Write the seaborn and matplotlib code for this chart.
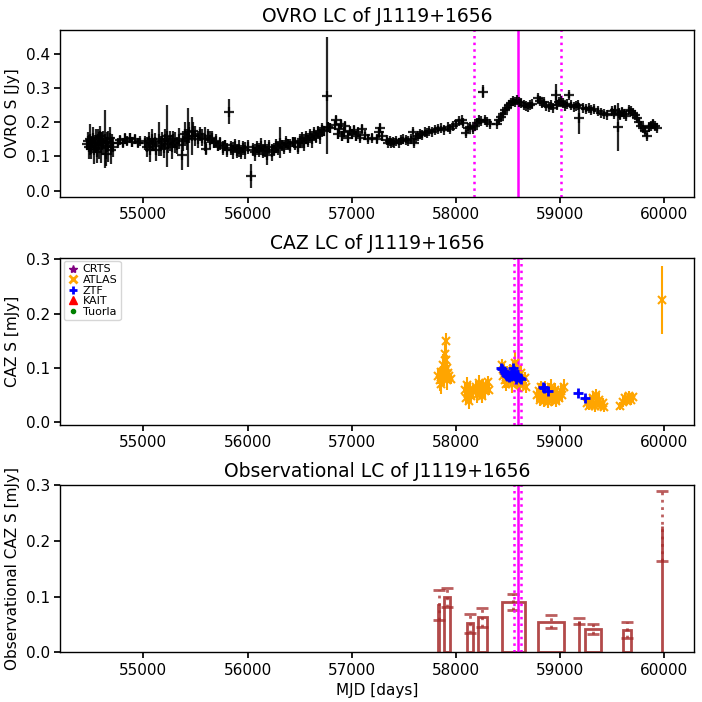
import matplotlib
matplotlib.use("Agg")
import matplotlib.pyplot as plt
from matplotlib.lines import Line2D
import seaborn as sns
import numpy as np

# OVRO 15 GHz light curve
ovro_mjd = [54457, 54465, 54475, 54485, 54495, 54505, 54515, 54525, 54535, 54545,
            54555, 54565, 54575, 54585, 54595, 54605, 54615, 54632, 54645, 54655,
            54665, 54675, 54685, 54695, 54705, 54760, 54780, 54800, 54820, 54845,
            54870, 54895, 54920, 54945, 54970, 55020, 55035, 55050, 55065, 55080,
            55095, 55110, 55125, 55150, 55165, 55180, 55195, 55210, 55224, 55240,
            55255, 55270, 55285, 55300, 55320, 55340, 55366, 55380, 55400, 55415,
            55425, 55440, 55463, 55480, 55500, 55520, 55540, 55560, 55587, 55600,
            55620, 55640, 55660, 55680, 55700, 55720, 55740, 55765, 55785, 55800,
            55825, 55840, 55860, 55880, 55900, 55920, 55940, 55960, 55980, 56000,
            56031, 56050, 56070, 56090, 56110, 56130, 56150, 56170, 56190, 56210,
            56230, 56250, 56270, 56290, 56316, 56330, 56350, 56370, 56390, 56410,
            56440, 56460, 56480, 56500, 56520, 56540, 56560, 56580, 56600, 56620,
            56640, 56660, 56680, 56700, 56715, 56735, 56760, 56775, 56790, 56838,
            56850, 56865, 56880, 56895, 56910, 56925, 56940, 56960, 56980, 57000,
            57020, 57040, 57060, 57080, 57100, 57130, 57160, 57192, 57243, 57260,
            57275, 57290, 57336, 57350, 57365, 57380, 57395, 57410, 57430, 57450,
            57475, 57496, 57520, 57545, 57570, 57590, 57600, 57615, 57635, 57655,
            57675, 57700, 57720, 57745, 57770, 57800, 57830, 57860, 57890, 57920,
            57944, 57976, 58000, 58030, 58055, 58072, 58098, 58120, 58136, 58160,
            58185, 58200, 58220, 58240, 58257, 58275, 58296, 58328, 58392, 58410,
            58430, 58450, 58470, 58490, 58510, 58530, 58550, 58570, 58584, 58610,
            58630, 58650, 58670, 58690, 58710, 58730, 58792, 58810, 58830, 58850,
            58870, 58890, 58910, 58930, 58958, 58975, 58990, 59010, 59030, 59050,
            59070, 59090, 59110, 59130, 59150, 59170, 59186, 59224, 59250, 59275,
            59300, 59330, 59360, 59390, 59420, 59450, 59499, 59515, 59530, 59553,
            59565, 59580, 59595, 59615, 59635, 59660, 59680, 59700, 59720, 59740,
            59760, 59780, 59800, 59815, 59833, 59850, 59870, 59890, 59910, 59930]
ovro_flux = [0.135, 0.145, 0.128, 0.150, 0.122, 0.140, 0.155, 0.118, 0.138, 0.146,
             0.112, 0.150, 0.132, 0.160, 0.125, 0.145, 0.138, 0.150, 0.108, 0.142,
             0.130, 0.155, 0.118, 0.140, 0.128, 0.140, 0.148, 0.138, 0.152, 0.145,
             0.155, 0.142, 0.150, 0.138, 0.145, 0.140, 0.128, 0.145, 0.120, 0.150,
             0.135, 0.142, 0.118, 0.150, 0.130, 0.145, 0.125, 0.150, 0.160, 0.135,
             0.145, 0.128, 0.150, 0.140, 0.132, 0.152, 0.105, 0.145, 0.165, 0.150,
             0.155, 0.170, 0.160, 0.175, 0.160, 0.150, 0.165, 0.155, 0.150, 0.123,
             0.160, 0.148, 0.155, 0.140, 0.145, 0.130, 0.138, 0.125, 0.132, 0.118,
             0.230, 0.125, 0.118, 0.130, 0.115, 0.122, 0.112, 0.125, 0.118, 0.128,
             0.044, 0.120, 0.112, 0.125, 0.118, 0.130, 0.115, 0.122, 0.105, 0.128,
             0.112, 0.120, 0.130, 0.125, 0.140, 0.132, 0.128, 0.140, 0.135, 0.130,
             0.142, 0.138, 0.128, 0.145, 0.150, 0.140, 0.155, 0.148, 0.160, 0.150,
             0.165, 0.158, 0.170, 0.162, 0.178, 0.175, 0.277, 0.185, 0.182, 0.192,
             0.205, 0.165, 0.180, 0.195, 0.160, 0.172, 0.188, 0.155, 0.175, 0.165,
             0.178, 0.160, 0.170, 0.155, 0.180, 0.162, 0.152, 0.155, 0.150, 0.170,
             0.182, 0.160, 0.148, 0.140, 0.145, 0.138, 0.142, 0.140, 0.145, 0.140,
             0.148, 0.150, 0.148, 0.145, 0.152, 0.172, 0.140, 0.155, 0.160, 0.165,
             0.162, 0.170, 0.168, 0.175, 0.172, 0.178, 0.180, 0.182, 0.178, 0.185,
             0.180, 0.188, 0.195, 0.202, 0.205, 0.198, 0.169, 0.182, 0.187, 0.180,
             0.190, 0.198, 0.205, 0.202, 0.289, 0.206, 0.200, 0.194, 0.196, 0.205,
             0.215, 0.225, 0.235, 0.240, 0.250, 0.255, 0.262, 0.258, 0.264, 0.260,
             0.255, 0.250, 0.248, 0.245, 0.250, 0.252, 0.270, 0.262, 0.255, 0.258,
             0.248, 0.245, 0.250, 0.242, 0.280, 0.250, 0.258, 0.262, 0.255, 0.248,
             0.252, 0.279, 0.250, 0.245, 0.248, 0.250, 0.211, 0.242, 0.238, 0.240,
             0.235, 0.238, 0.232, 0.228, 0.225, 0.222, 0.232, 0.225, 0.235, 0.187,
             0.228, 0.220, 0.230, 0.225, 0.218, 0.235, 0.232, 0.228, 0.222, 0.212,
             0.200, 0.190, 0.182, 0.175, 0.159, 0.185, 0.190, 0.195, 0.188, 0.182]
ovro_err = [0.015, 0.025, 0.035, 0.045, 0.030, 0.020, 0.030, 0.040, 0.025, 0.035,
            0.030, 0.030, 0.040, 0.030, 0.045, 0.025, 0.035, 0.085, 0.035, 0.030,
            0.045, 0.030, 0.040, 0.025, 0.030, 0.010, 0.012, 0.010, 0.015, 0.012,
            0.012, 0.015, 0.012, 0.010, 0.010, 0.020, 0.030, 0.025, 0.035, 0.030,
            0.020, 0.025, 0.030, 0.050, 0.030, 0.025, 0.030, 0.030, 0.090, 0.025,
            0.030, 0.035, 0.025, 0.030, 0.025, 0.030, 0.045, 0.030, 0.035, 0.030,
            0.085, 0.030, 0.055, 0.025, 0.030, 0.025, 0.020, 0.025, 0.035, 0.020,
            0.020, 0.025, 0.020, 0.015, 0.020, 0.015, 0.020, 0.020, 0.015, 0.020,
            0.036, 0.020, 0.025, 0.020, 0.020, 0.025, 0.020, 0.020, 0.025, 0.020,
            0.035, 0.020, 0.025, 0.020, 0.020, 0.025, 0.020, 0.025, 0.030, 0.020,
            0.025, 0.020, 0.020, 0.020, 0.045, 0.015, 0.020, 0.020, 0.015, 0.020,
            0.015, 0.020, 0.020, 0.020, 0.020, 0.025, 0.020, 0.020, 0.020, 0.025,
            0.020, 0.020, 0.020, 0.025, 0.020, 0.015, 0.170, 0.015, 0.015, 0.012,
            0.012, 0.015, 0.012, 0.012, 0.015, 0.015, 0.012, 0.015, 0.012, 0.015,
            0.012, 0.015, 0.012, 0.010, 0.012, 0.010, 0.010, 0.010, 0.012, 0.015,
            0.012, 0.015, 0.010, 0.008, 0.008, 0.008, 0.008, 0.008, 0.008, 0.008,
            0.008, 0.008, 0.008, 0.008, 0.008, 0.008, 0.010, 0.008, 0.008, 0.008,
            0.008, 0.008, 0.008, 0.008, 0.008, 0.008, 0.008, 0.008, 0.008, 0.008,
            0.008, 0.008, 0.008, 0.008, 0.008, 0.008, 0.008, 0.008, 0.008, 0.008,
            0.008, 0.008, 0.008, 0.008, 0.018, 0.008, 0.008, 0.008, 0.008, 0.008,
            0.008, 0.008, 0.010, 0.008, 0.008, 0.008, 0.008, 0.008, 0.008, 0.008,
            0.008, 0.008, 0.008, 0.008, 0.008, 0.008, 0.008, 0.008, 0.008, 0.008,
            0.008, 0.008, 0.008, 0.008, 0.030, 0.008, 0.008, 0.008, 0.008, 0.008,
            0.008, 0.008, 0.008, 0.008, 0.008, 0.008, 0.046, 0.008, 0.008, 0.008,
            0.008, 0.008, 0.008, 0.008, 0.008, 0.008, 0.008, 0.010, 0.012, 0.070,
            0.010, 0.012, 0.010, 0.010, 0.010, 0.008, 0.008, 0.008, 0.008, 0.008,
            0.008, 0.010, 0.010, 0.010, 0.008, 0.010, 0.010, 0.010, 0.010, 0.008]

# ATLAS optical points
atlas_mjd = [57830, 57845, 57855, 57862, 57870, 57878, 57885, 57892, 57898, 57903,
             57908, 57912, 57918, 57925, 57935, 57950,
             58090, 58100, 58110, 58118, 58125, 58132, 58140, 58150, 58160,
             58195, 58205, 58215, 58225, 58235, 58245, 58255, 58265, 58275, 58290,
             58305, 58318,
             58445, 58455, 58465, 58475, 58485, 58495, 58505, 58515, 58525, 58535,
             58545, 58555, 58565, 58575, 58585, 58595, 58605, 58615, 58625, 58640,
             58660, 58675,
             58780, 58795, 58805, 58815, 58825, 58835, 58845, 58855, 58865, 58875,
             58885, 58895, 58905, 58915, 58925, 58935, 58945, 58955, 58965, 58975,
             58990, 59005, 59020, 59035,
             59260, 59275, 59290, 59305, 59320, 59335, 59345, 59360, 59375, 59390,
             59410, 59425,
             59580, 59600, 59620, 59640, 59660, 59680, 59700,
             59980]
atlas_flux = [0.085, 0.078, 0.092, 0.070, 0.088, 0.105, 0.082, 0.095, 0.125, 0.150,
              0.115, 0.100, 0.078, 0.090, 0.085, 0.080,
              0.060, 0.045, 0.068, 0.052, 0.040, 0.062, 0.055, 0.048, 0.058,
              0.065, 0.050, 0.060, 0.072, 0.055, 0.062, 0.048, 0.068, 0.058, 0.065,
              0.075, 0.060,
              0.105, 0.085, 0.095, 0.078, 0.070, 0.088, 0.075, 0.092, 0.082, 0.070,
              0.098, 0.088, 0.110, 0.080, 0.095, 0.072, 0.085, 0.068, 0.090, 0.075,
              0.082, 0.065,
              0.050, 0.058, 0.042, 0.065, 0.048, 0.055, 0.040, 0.062, 0.045, 0.052,
              0.038, 0.058, 0.047, 0.065, 0.042, 0.055, 0.048, 0.060, 0.040, 0.052,
              0.045, 0.058, 0.050, 0.065,
              0.035, 0.030, 0.040, 0.032, 0.045, 0.030, 0.050, 0.038, 0.042, 0.030,
              0.035, 0.028,
              0.030, 0.038, 0.045, 0.040, 0.048, 0.042, 0.046,
              0.225]
atlas_err = [0.015, 0.020, 0.012, 0.018, 0.015, 0.020, 0.015, 0.018, 0.020, 0.015,
             0.020, 0.015, 0.018, 0.015, 0.012, 0.010,
             0.015, 0.012, 0.015, 0.012, 0.015, 0.012, 0.015, 0.012, 0.010,
             0.012, 0.015, 0.012, 0.015, 0.012, 0.015, 0.012, 0.012, 0.015, 0.012,
             0.010, 0.010,
             0.012, 0.015, 0.012, 0.015, 0.012, 0.015, 0.012, 0.015, 0.012, 0.015,
             0.015, 0.020, 0.020, 0.015, 0.020, 0.015, 0.015, 0.012, 0.015, 0.012,
             0.010, 0.010,
             0.012, 0.015, 0.012, 0.012, 0.015, 0.012, 0.012, 0.015, 0.012, 0.012,
             0.012, 0.015, 0.012, 0.015, 0.012, 0.012, 0.015, 0.012, 0.012, 0.012,
             0.012, 0.015, 0.012, 0.015,
             0.010, 0.008, 0.010, 0.008, 0.012, 0.010, 0.012, 0.010, 0.012, 0.008,
             0.010, 0.008,
             0.008, 0.010, 0.010, 0.008, 0.010, 0.010, 0.008,
             0.063]

# ZTF optical points
ztf_mjd = [58430, 58445, 58458, 58470, 58480, 58495, 58510, 58525, 58535, 58545,
           58555, 58565, 58575, 58585, 58600, 58615, 58630, 58840, 58850, 58885,
           59170, 59240]
ztf_flux = [0.100, 0.098, 0.095, 0.090, 0.088, 0.085, 0.083, 0.086, 0.093, 0.100,
            0.095, 0.085, 0.080, 0.088, 0.083, 0.082, 0.080, 0.066, 0.064, 0.058,
            0.055, 0.045]
ztf_err = [0.003] * len(ztf_mjd)

# Bayesian blocks of the optical light curve
block_left = [57833, 57883, 58104, 58209, 58440, 58785, 59179, 59242, 59601, 59979]
block_right = [57838, 57941, 58161, 58301, 58666, 59040, 59184, 59395, 59678, 59983]
block_flux = [0.085, 0.099, 0.052, 0.063, 0.0895, 0.055, 0.056, 0.0415, 0.040, 0.227]
block_err = [0.027, 0.017, 0.017, 0.017, 0.0145, 0.012, 0.005, 0.009, 0.014, 0.063]

# flare times
ovro_peak = 58595
ovro_band = [58175, 59010]
caz_peak = 58595
caz_band = [58557, 58622]

surveys = ["CRTS", "ATLAS", "ZTF", "KAIT", "Tuorla"]
survey_colors = ["purple", "orange", "blue", "red", "green"]
survey_markers = ["*", "x", "+", "^", "."]

sns.set_theme(style="ticks", rc={"axes.edgecolor": "black", "xtick.color": "black",
                                 "ytick.color": "black", "text.color": "black",
                                 "axes.labelcolor": "black",
                                 "axes.linewidth": 1.0})
plt.rcParams["font.family"] = ["DejaVu Sans"]

fig, axes = plt.subplots(3, 1, figsize=(7.02, 7.02), dpi=100)
fig.subplots_adjust(left=0.086, right=0.989, top=0.957, bottom=0.071, hspace=0.365)
xlim = (54203, 60289)

# top: OVRO
ax = axes[0]
ax.errorbar(ovro_mjd, ovro_flux, yerr=ovro_err, fmt="+", color="black", ms=7,
            mew=1.6, elinewidth=1.6, alpha=0.85)
ax.axvline(ovro_peak, color="magenta", lw=1.8)
for t in ovro_band:
    ax.axvline(t, color="magenta", lw=1.8, ls=":")
ax.set_ylim(-0.018, 0.468)
ax.set_ylabel("OVRO S [Jy]")
ax.set_title("OVRO LC of J1119+1656")

# middle: optical (CAZ)
ax = axes[1]
ax.errorbar(atlas_mjd, atlas_flux, yerr=atlas_err, fmt="x", color="orange", ms=6,
            mew=1.5, elinewidth=1.5)
ax.errorbar(ztf_mjd, ztf_flux, yerr=ztf_err, fmt="+", color="blue", ms=7,
            mew=2, elinewidth=1.5)
ax.axvline(caz_peak, color="magenta", lw=1.8)
for t in caz_band:
    ax.axvline(t, color="magenta", lw=1.8, ls=":")
handles = [Line2D([], [], ls="none", marker=m, color=c, ms=6, mew=2 if m in "x+" else 1)
           for m, c in zip(survey_markers, survey_colors)]
ax.legend(handles, surveys, loc="upper left", fontsize=8, labelspacing=0.05,
          handlelength=1.0, handletextpad=0.4, borderpad=0.3, borderaxespad=0.3,
          frameon=True)
ax.set_ylim(-0.004, 0.303)
ax.set_ylabel("CAZ S [mJy]")
ax.set_title("CAZ LC of J1119+1656")

# bottom: blocks
ax = axes[2]
left = np.array(block_left)
width = np.array(block_right) - left
ax.bar(left, block_flux, width=width, align="edge", fill=False,
       edgecolor="brown", linewidth=2, alpha=0.85)
centers = left + width / 2
ax.errorbar(centers, block_flux, yerr=block_err, fmt="none", ecolor="brown",
            elinewidth=2, capsize=4, capthick=2, ls=":", alpha=0.75)
eb = ax.containers[-1]
for lc in eb.lines[2]:
    lc.set_linestyle(":")
ax.axvline(caz_peak, color="magenta", lw=1.8)
for t in caz_band:
    ax.axvline(t, color="magenta", lw=1.8, ls=":")
ax.set_ylim(0, 0.3)
ax.set_ylabel("Observational CAZ S [mJy]")
ax.set_xlabel("MJD [days]")
ax.set_title("Observational LC of J1119+1656")

for ax in axes:
    ax.set_xlim(*xlim)
    ax.tick_params(labelsize=11, length=4)
    ax.yaxis.label.set_size(11)
    ax.xaxis.label.set_size(11)
    ax.title.set_size(13.5)

fig.savefig("out.png", dpi=100)
